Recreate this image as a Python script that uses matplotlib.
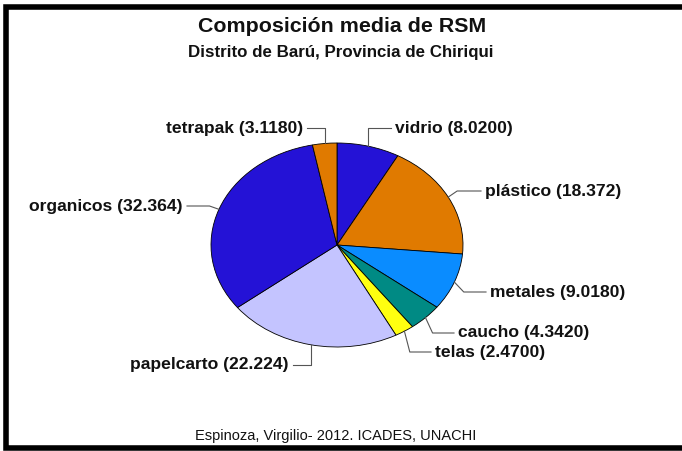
import numpy as np
import matplotlib.pyplot as plt
from matplotlib.lines import Line2D

# datos (porcentaje en peso)
categorias = ['vidrio', 'plástico', 'metales', 'caucho', 'telas',
              'papelcarto', 'organicos', 'tetrapak']
valores = [8.0200, 18.372, 9.0180, 4.3420, 2.4700, 22.224, 32.364, 3.1180]
etiquetas = ['vidrio (8.0200)', 'plástico (18.372)', 'metales (9.0180)',
             'caucho (4.3420)', 'telas (2.4700)', 'papelcarto (22.224)',
             'organicos (32.364)', 'tetrapak (3.1180)']
colores = ['#2412d6', '#e07a00', '#0a8cff', '#008a84', '#ffff10',
           '#c4c4ff', '#2412d6', '#e07a00']

# posiciones de las etiquetas, en pixeles de la figura (x, y desde arriba, alineacion)
pos_etiquetas = [(395, 128, 'left'), (485, 191, 'left'), (490, 292, 'left'),
                 (458, 333, 'left'), (435, 352, 'left'), (289, 365, 'right'),
                 (183, 206, 'right'), (303, 128, 'right')]

W, H = 682, 451
cx, cy = 337, 245      # centro del pastel (px)
rx, ry = 126, 102      # radios del pastel (px)

plt.rcParams['font.family'] = ['Liberation Sans', 'DejaVu Sans']

fig = plt.figure(figsize=(W / 100, H / 100), dpi=100)
ax = fig.add_axes([0, 0, 1, 1])

wedges, _ = ax.pie(valores, colors=colores, startangle=90, counterclock=False,
                   wedgeprops=dict(edgecolor='black', linewidth=0.6))
ax.set_aspect('auto')
ax.set_xlim(-cx / rx, (W - cx) / rx)
ax.set_ylim(-(H - cy) / ry, cy / ry)
ax.axis('off')


def px(x, y):
    return (x - cx) / rx, (cy - y) / ry


for w, txt, (tx, ty, ha) in zip(wedges, etiquetas, pos_etiquetas):
    ang = np.deg2rad((w.theta1 + w.theta2) / 2)
    ex, ey = np.cos(ang), np.sin(ang)
    lx, ly = px(tx, ty)
    gap = 4 / rx
    end_x = lx - gap if ha == 'left' else lx + gap
    elbow_x = ex * 1.08 if abs(ex) > 0.3 else ex
    ax.plot([ex, elbow_x, end_x], [ey, ly, ly], color='#555555', lw=0.8)
    ax.text(lx, ly, txt, ha=ha, va='center', fontsize=12.6, fontweight='bold',
            color='#111111')

fig.text(342 / W, 1 - 27 / H, 'Composición media de RSM', ha='center',
         va='center', fontsize=15.4, fontweight='bold', color='#111111')
fig.text(341 / W, 1 - 53 / H, 'Distrito de Barú, Provincia de Chiriqui',
         ha='center', va='center', fontsize=12.2, fontweight='bold', color='#111111')
fig.text(336 / W, 1 - 436 / H, 'Espinoza, Virgilio- 2012. ICADES, UNACHI',
         ha='center', va='center', fontsize=10.5, color='#111111')

# marco negro (izquierda, arriba, abajo)
xl, yt, yb = 5.5 / W, 1 - 6.5 / H, 1 - 447.5 / H
fig.lines.append(Line2D([1.05, xl, xl, 1.05], [yt, yt, yb, yb],
                        transform=fig.transFigure, color='black', linewidth=4,
                        solid_joinstyle='miter'))

fig.savefig('out.png', dpi=100)
